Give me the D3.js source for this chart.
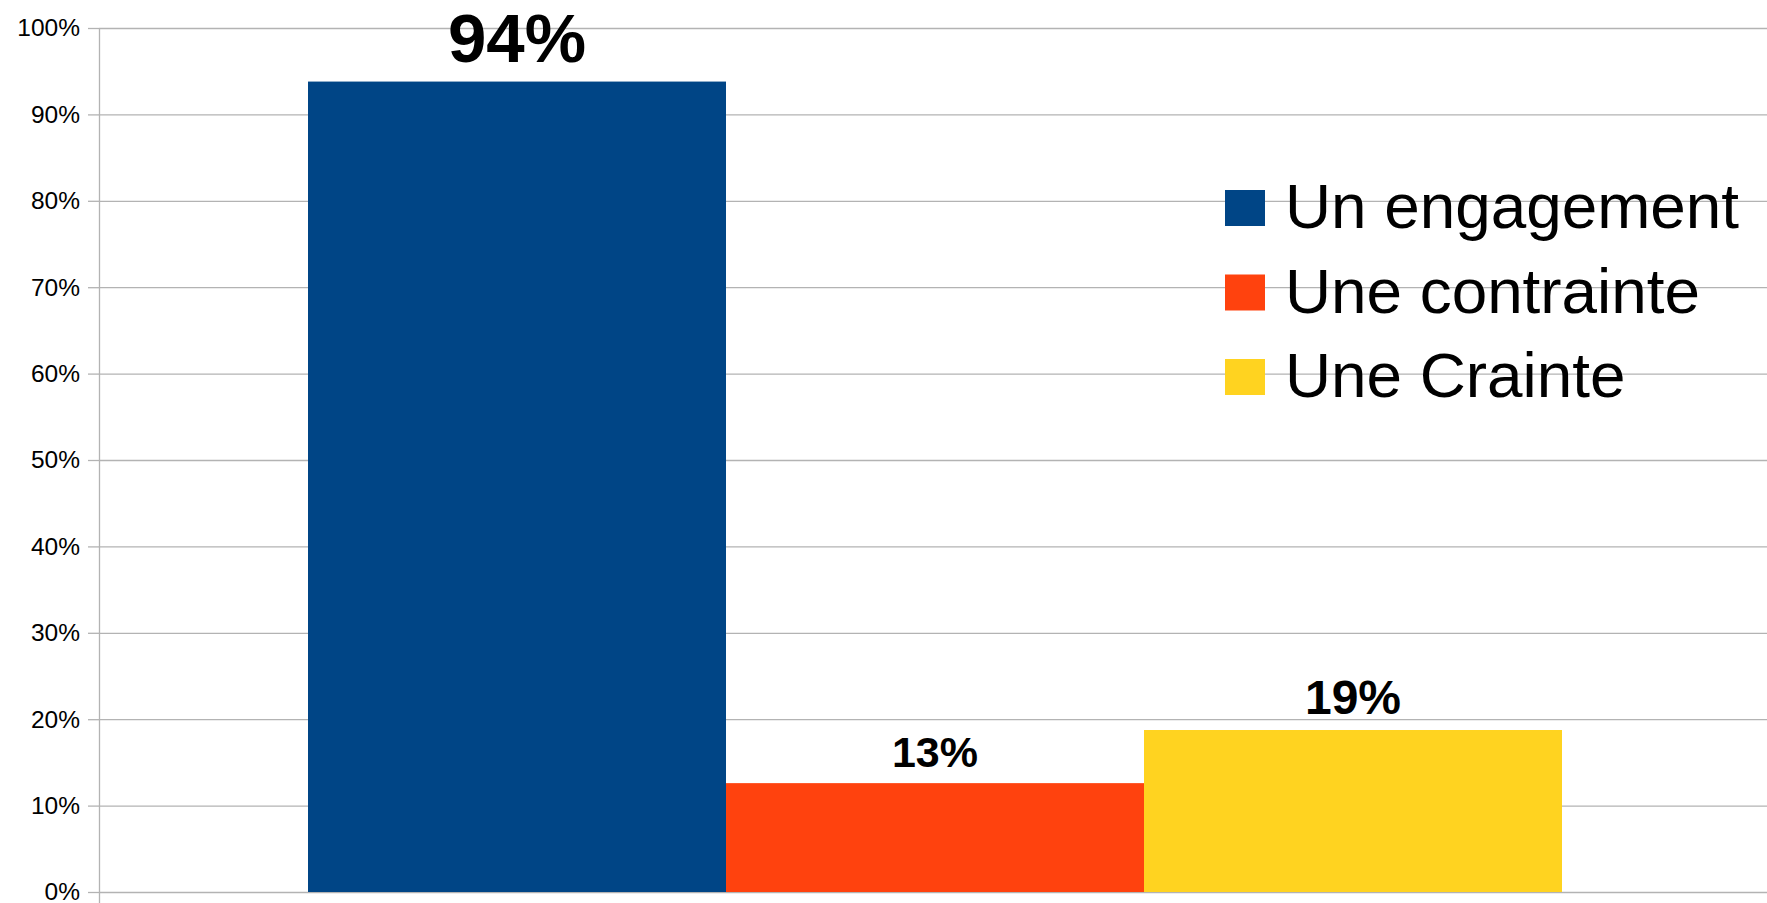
<!DOCTYPE html>
<html>
<head>
<meta charset="utf-8">
<script src="https://cdn.jsdelivr.net/npm/d3@7"></script>
<style>
  body { margin: 0; background: #fff; }
  svg { display: block; font-family: "Liberation Sans", Arial, sans-serif; }
  .grid line { stroke: #b3b3b3; stroke-width: 1.3; }
  .grid path { display: none; }
  .yaxis path { display: none; }
  .yaxis line { stroke: #b3b3b3; stroke-width: 1.3; }
  .yaxis text { font-size: 24.5px; fill: #000; }
</style>
</head>
<body>
<script>
// data
var categories = [""];
var seriesNames = ["Un engagement", "Une contrainte", "Une Crainte"];
var seriesValues = [0.938, 0.126, 0.1875];
var valueLabels = ["94%", "13%", "19%"];
var yTicks = [0, 0.1, 0.2, 0.3, 0.4, 0.5, 0.6, 0.7, 0.8, 0.9, 1];

var colors = ["#004586", "#ff420e", "#ffd320"];
var labelSizes = [69, 43, 48];

var w = 1767;
var h = 903;
var plotLeft = 99, plotTop = 28, plotBottom = 892, plotRight = w;

var svg = d3.select("body")
    .append("svg")
    .attr("width", w)
    .attr("height", h);

var yScale = d3.scaleLinear()
    .domain([0, 1])
    .range([plotBottom, plotTop]);

// the plot area runs a touch past the right edge of the picture
var xScale = d3.scaleBand()
    .domain(categories)
    .range([plotLeft, plotRight + 4])
    .paddingInner(0)
    .paddingOuter(1 / 6);

var xSeries = d3.scaleBand()
    .domain(seriesNames)
    .range([0, xScale.bandwidth()])
    .padding(0);

// grid lines
svg.append("g")
    .attr("class", "grid")
    .attr("transform", "translate(" + plotLeft + ",0)")
    .call(d3.axisLeft(yScale)
        .tickValues(yTicks)
        .tickSize(-(plotRight - plotLeft))
        .tickFormat(""));

// y axis with ticks to the left
svg.append("g")
    .attr("class", "yaxis")
    .attr("transform", "translate(" + plotLeft + ",0)")
    .call(d3.axisLeft(yScale)
        .tickValues(yTicks)
        .tickSizeInner(11)
        .tickSizeOuter(0)
        .tickPadding(8)
        .tickFormat(d3.format(".0%")));

svg.append("line")
    .attr("x1", plotLeft + 0.5)
    .attr("x2", plotLeft + 0.5)
    .attr("y1", plotTop)
    .attr("y2", h)
    .attr("stroke", "#b3b3b3")
    .attr("stroke-width", 1.3);

var rows = seriesNames.map(function(name, i) {
  return { name: name, value: seriesValues[i], label: valueLabels[i], cat: categories[0], i: i };
});

// bars
svg.selectAll("rect.bar")
    .data(rows)
    .enter()
    .append("rect")
    .attr("class", "bar")
    .attr("x", function(d) { return xScale(d.cat) + xSeries(d.name); })
    .attr("y", function(d) { return yScale(d.value); })
    .attr("width", xSeries.bandwidth())
    .attr("height", function(d) { return yScale(0) - yScale(d.value); })
    .attr("fill", function(d) { return colors[d.i]; });

// value labels
svg.selectAll("text.vlabel")
    .data(rows)
    .enter()
    .append("text")
    .attr("class", "vlabel")
    .attr("text-anchor", "middle")
    .attr("x", function(d) { return xScale(d.cat) + xSeries(d.name) + xSeries.bandwidth() / 2; })
    .attr("y", function(d) { return yScale(d.value) - (d.i == 0 ? 20 : 16); })
    .attr("font-size", function(d) { return labelSizes[d.i] + "px"; })
    .attr("font-weight", "bold")
    .attr("fill", "#000")
    .text(function(d) { return d.label; });

// legend
var legend = svg.append("g")
    .attr("transform", "translate(1225,190)");

var item = legend.selectAll("g")
    .data(seriesNames)
    .enter()
    .append("g")
    .attr("transform", function(d, i) { return "translate(0," + (i * 84.5) + ")"; });

item.append("rect")
    .attr("width", 40)
    .attr("height", 36)
    .attr("fill", function(d, i) { return colors[i]; });

item.append("text")
    .attr("x", 60)
    .attr("y", 38)
    .attr("font-size", "63.8px")
    .attr("fill", "#000")
    .text(function(d) { return d; });
</script>
</body>
</html>
